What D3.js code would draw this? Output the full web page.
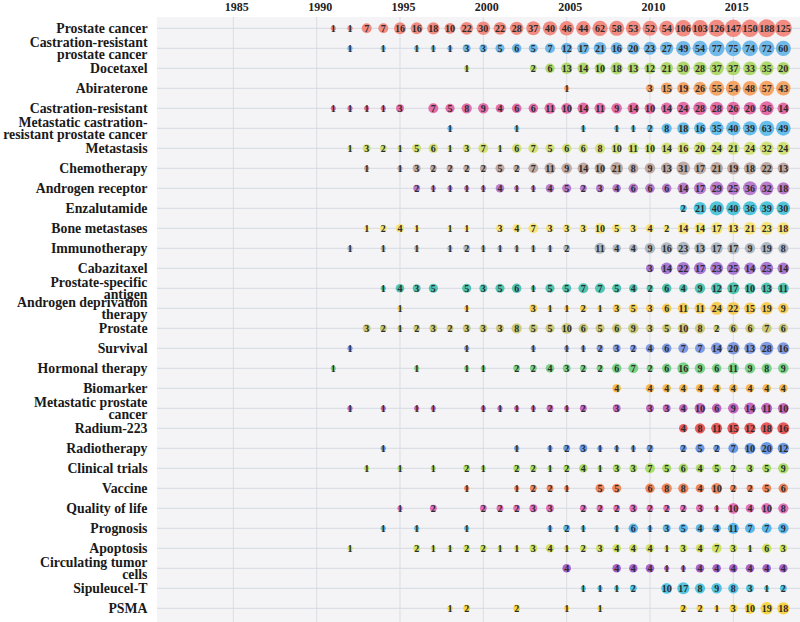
<!DOCTYPE html>
<html><head><meta charset="utf-8">
<script src="https://cdn.jsdelivr.net/npm/d3@7/dist/d3.min.js"></script>
<style>body{margin:0;background:#fff}svg{display:block}</style>
</head><body><svg id="c" width="800" height="622"></svg>
<script>
const tickYears = [1985, 1990, 1995, 2000, 2005, 2010, 2015];
const keywords = ["Prostate cancer","Castration-resistant\nprostate cancer","Docetaxel","Abiraterone","Castration-resistant","Metastatic castration-\nresistant prostate cancer","Metastasis","Chemotherapy","Androgen receptor","Enzalutamide","Bone metastases","Immunotherapy","Cabazitaxel","Prostate-specific\nantigen","Androgen deprivation\ntherapy","Prostate","Survival","Hormonal therapy","Biomarker","Metastatic prostate\ncancer","Radium-223","Radiotherapy","Clinical trials","Vaccine","Quality of life","Prognosis","Apoptosis","Circulating tumor\ncells","Sipuleucel-T","PSMA"];
const colors = ["#f27f74","#62b3e8","#a9d65e","#f59c57","#e35fa0","#55b8ea","#cfe06a","#b9a29b","#b46fc9","#3ec0d9","#f6e36c","#a9b3bd","#a26bd2","#3fc0aa","#f8c944","#c9c66c","#7491e2","#6fd07c","#f8b43f","#c158b9","#e84a4a","#5c90e2","#a3dc5a","#f17b4b","#e262b2","#4bb1e9","#cde153","#a352ca","#41c1e1","#f8d132"];

const prostateCancer = [[1991,1],[1992,1],[1993,7],[1994,7],[1995,16],[1996,16],[1997,18],[1998,10],[1999,22],[2000,30],[2001,22],[2002,28],[2003,37],[2004,40],[2005,46],[2006,44],[2007,62],[2008,58],[2009,53],[2010,52],[2011,54],[2012,106],[2013,103],[2014,126],[2015,147],[2016,150],[2017,188],[2018,125]];
const crpc = [[1992,1],[1994,1],[1996,1],[1997,1],[1998,1],[1999,3],[2000,3],[2001,5],[2002,6],[2003,5],[2004,7],[2005,12],[2006,17],[2007,21],[2008,16],[2009,20],[2010,23],[2011,27],[2012,49],[2013,54],[2014,77],[2015,75],[2016,74],[2017,72],[2018,60]];
const docetaxel = [[1999,1],[2003,2],[2004,6],[2005,13],[2006,14],[2007,10],[2008,18],[2009,13],[2010,12],[2011,21],[2012,30],[2013,28],[2014,37],[2015,37],[2016,33],[2017,35],[2018,20]];
const abiraterone = [[2005,1],[2010,3],[2011,15],[2012,19],[2013,26],[2014,55],[2015,54],[2016,48],[2017,57],[2018,43]];
const castrationResistant = [[1991,1],[1992,1],[1993,1],[1994,1],[1995,3],[1997,7],[1998,5],[1999,8],[2000,9],[2001,4],[2002,6],[2003,6],[2004,11],[2005,10],[2006,14],[2007,11],[2008,9],[2009,14],[2010,10],[2011,14],[2012,24],[2013,28],[2014,28],[2015,26],[2016,20],[2017,36],[2018,14]];
const mcrpc = [[1998,1],[2002,1],[2006,1],[2008,1],[2009,1],[2010,2],[2011,8],[2012,18],[2013,16],[2014,35],[2015,40],[2016,39],[2017,63],[2018,49]];
const metastasis = [[1992,1],[1993,3],[1994,2],[1995,1],[1996,5],[1997,6],[1998,1],[1999,3],[2000,7],[2001,1],[2002,6],[2003,7],[2004,5],[2005,6],[2006,6],[2007,8],[2008,10],[2009,11],[2010,10],[2011,14],[2012,16],[2013,20],[2014,24],[2015,21],[2016,24],[2017,32],[2018,24]];
const chemotherapy = [[1993,1],[1995,1],[1996,3],[1997,2],[1998,2],[1999,2],[2000,2],[2001,5],[2002,2],[2003,7],[2004,11],[2005,9],[2006,14],[2007,10],[2008,21],[2009,8],[2010,9],[2011,13],[2012,31],[2013,17],[2014,21],[2015,19],[2016,18],[2017,22],[2018,13]];
const androgenReceptor = [[1996,2],[1997,1],[1998,1],[1999,1],[2000,1],[2001,4],[2002,1],[2003,1],[2004,4],[2005,5],[2006,2],[2007,3],[2008,4],[2009,6],[2010,6],[2011,6],[2012,14],[2013,17],[2014,29],[2015,25],[2016,36],[2017,32],[2018,18]];
const enzalutamide = [[2012,2],[2013,21],[2014,40],[2015,40],[2016,36],[2017,39],[2018,30]];
const boneMetastases = [[1993,1],[1994,2],[1995,4],[1996,1],[1998,1],[1999,1],[2001,3],[2002,4],[2003,7],[2004,3],[2005,3],[2006,3],[2007,10],[2008,5],[2009,3],[2010,4],[2011,2],[2012,14],[2013,14],[2014,17],[2015,13],[2016,21],[2017,23],[2018,18]];
const immunotherapy = [[1992,1],[1994,1],[1996,1],[1998,1],[1999,2],[2000,1],[2001,1],[2002,1],[2003,1],[2004,1],[2005,2],[2007,11],[2008,4],[2009,4],[2010,9],[2011,16],[2012,23],[2013,13],[2014,17],[2015,17],[2016,9],[2017,19],[2018,8]];
const cabazitaxel = [[2010,3],[2011,14],[2012,22],[2013,17],[2014,23],[2015,25],[2016,14],[2017,25],[2018,14]];
const psa = [[1994,1],[1995,4],[1996,3],[1997,5],[1999,5],[2000,3],[2001,5],[2002,6],[2003,1],[2004,5],[2005,5],[2006,7],[2007,7],[2008,5],[2009,4],[2010,2],[2011,6],[2012,4],[2013,9],[2014,12],[2015,17],[2016,10],[2017,13],[2018,11]];
const adt = [[1995,1],[1999,1],[2003,3],[2004,1],[2005,1],[2006,2],[2007,1],[2008,3],[2009,5],[2010,3],[2011,6],[2012,11],[2013,11],[2014,24],[2015,22],[2016,15],[2017,19],[2018,9]];
const prostate = [[1993,3],[1994,2],[1995,1],[1996,2],[1997,3],[1998,2],[1999,3],[2000,3],[2001,3],[2002,8],[2003,5],[2004,5],[2005,10],[2006,6],[2007,5],[2008,6],[2009,9],[2010,3],[2011,5],[2012,10],[2013,8],[2014,2],[2015,6],[2016,6],[2017,7],[2018,6]];
const survival = [[1992,1],[1999,1],[2003,1],[2005,1],[2006,1],[2007,2],[2008,3],[2009,2],[2010,4],[2011,6],[2012,7],[2013,7],[2014,14],[2015,20],[2016,13],[2017,28],[2018,16]];
const hormonalTherapy = [[1991,1],[1996,1],[1999,1],[2000,1],[2002,2],[2003,2],[2004,4],[2005,3],[2006,2],[2007,2],[2008,6],[2009,7],[2010,2],[2011,6],[2012,16],[2013,9],[2014,6],[2015,11],[2016,9],[2017,8],[2018,9]];
const biomarker = [[2008,4],[2010,4],[2011,4],[2012,4],[2013,4],[2014,4],[2015,4],[2016,4],[2017,4],[2018,4]];
const metastaticPC = [[1992,1],[1994,1],[1996,1],[1997,1],[2000,1],[2001,1],[2002,1],[2003,1],[2004,2],[2005,1],[2006,2],[2008,3],[2010,3],[2011,3],[2012,4],[2013,10],[2014,6],[2015,9],[2016,14],[2017,11],[2018,10]];
const radium223 = [[2012,4],[2013,8],[2014,11],[2015,15],[2016,12],[2017,18],[2018,16]];
const radiotherapy = [[1994,1],[2002,1],[2004,1],[2005,2],[2006,3],[2007,1],[2008,1],[2009,1],[2010,2],[2012,2],[2013,5],[2014,2],[2015,7],[2016,10],[2017,20],[2018,12]];
const clinicalTrials = [[1993,1],[1995,1],[1997,1],[1999,2],[2000,1],[2002,2],[2003,2],[2004,1],[2005,2],[2006,4],[2007,1],[2008,3],[2009,3],[2010,7],[2011,5],[2012,6],[2013,4],[2014,5],[2015,2],[2016,3],[2017,5],[2018,9]];
const vaccine = [[1999,1],[2002,1],[2003,2],[2004,2],[2005,1],[2007,5],[2008,5],[2010,6],[2011,8],[2012,8],[2013,4],[2014,10],[2015,2],[2016,2],[2017,5],[2018,6]];
const qualityOfLife = [[1995,1],[1997,2],[2000,2],[2001,2],[2002,2],[2003,3],[2004,3],[2006,2],[2007,2],[2008,2],[2009,3],[2010,2],[2011,2],[2012,2],[2013,3],[2014,1],[2015,10],[2016,4],[2017,10],[2018,8]];
const prognosis = [[1994,1],[1996,1],[1999,1],[2004,1],[2005,2],[2006,1],[2008,1],[2009,6],[2010,1],[2011,3],[2012,5],[2013,4],[2014,4],[2015,11],[2016,7],[2017,7],[2018,9]];
const apoptosis = [[1992,1],[1996,2],[1997,1],[1998,1],[1999,2],[2000,2],[2001,1],[2002,1],[2003,3],[2004,4],[2005,1],[2006,2],[2007,3],[2008,4],[2009,4],[2010,4],[2011,1],[2012,3],[2013,4],[2014,7],[2015,3],[2016,1],[2017,6],[2018,3]];
const ctc = [[2005,4],[2008,4],[2009,4],[2010,4],[2011,1],[2012,1],[2013,4],[2014,4],[2015,4],[2016,4],[2017,4],[2018,4]];
const sipuleucelT = [[2006,1],[2007,1],[2008,1],[2009,2],[2011,10],[2012,17],[2013,8],[2014,9],[2015,8],[2016,3],[2017,1],[2018,2]];
const psma = [[1998,1],[1999,2],[2002,2],[2005,1],[2007,1],[2012,2],[2013,2],[2014,1],[2015,3],[2016,10],[2017,19],[2018,18]];

const seriesList = [prostateCancer,crpc,docetaxel,abiraterone,castrationResistant,mcrpc,metastasis,chemotherapy,androgenReceptor,enzalutamide,boneMetastases,immunotherapy,cabazitaxel,psa,adt,prostate,survival,hormonalTherapy,biomarker,metastaticPC,radium223,radiotherapy,clinicalTrials,vaccine,qualityOfLife,prognosis,apoptosis,ctc,sipuleucelT,psma];

const svg = d3.select("#c");
const x = d3.scaleLinear().domain([1980, 2019]).range([150, 800]);
const y = d3.scalePoint().domain(keywords).range([28.3, 608.3]);
const maxV = d3.max(seriesList.flat(), d => d[1]);
const r = d3.scaleLog().domain([1, maxV]).range([2.6, 9]);

const plotLeft = 157, plotTop = 17;
svg.append("rect").attr("x", plotLeft).attr("y", plotTop).attr("width", 800 - plotLeft).attr("height", 622 - plotTop).attr("fill", "#f4f4f6");

svg.append("g").selectAll("line").data(tickYears).join("line")
  .attr("x1", d => x(d)).attr("x2", d => x(d)).attr("y1", plotTop).attr("y2", 622)
  .attr("stroke", "#dcdde3").attr("stroke-width", 1);

const axis = d3.axisTop(x).tickValues(tickYears).tickFormat(d3.format("d")).tickSize(0);
const ag = svg.append("g").attr("transform", "translate(3,14)").call(axis);
ag.select(".domain").remove();
ag.selectAll("text").attr("font-family", "'Liberation Serif', serif").attr("font-weight", "bold").attr("font-size", 12).attr("fill", "#222").attr("dy", 0);

svg.append("g").selectAll("line").data(keywords).join("line")
  .attr("x1", plotLeft).attr("x2", 800).attr("y1", d => y(d)).attr("y2", d => y(d))
  .attr("stroke", "#d8dae3").attr("stroke-width", 1);

const lab = svg.append("g").attr("font-family", "'Liberation Serif', serif").attr("font-weight", "bold").attr("fill", "#1a1a1a").attr("text-anchor", "end");
keywords.forEach(k => {
  const lines = k.split("\n");
  const two = lines.length > 1;
  const t = lab.append("text").attr("x", 147.5).attr("y", y(k)).attr("font-size", 13.8);
  lines.forEach((ln, i) => {
    t.append("tspan").attr("x", 147.5).attr("y", y(k) + 4.5 + (two ? (i === 0 ? -5.6 : 5.8) : 0)).text(ln);
  });
});

const cg = svg.append("g");
seriesList.forEach((s, i) => {
  const g = cg.append("g");
  const k = keywords[i];
  g.selectAll("circle").data(s).join("circle")
    .attr("cx", d => x(d[0])).attr("cy", y(k)).attr("r", d => r(d[1]))
    .attr("fill", colors[i]).attr("fill-opacity", 0.9);
  g.selectAll("text").data(s).join("text")
    .attr("x", d => x(d[0])).attr("y", y(k) + 3.5)
    .attr("text-anchor", "middle").attr("font-family", "'Liberation Serif', serif")
    .attr("font-weight", "bold").attr("font-size", 10).attr("fill", "#2b2b2b")
    .text(d => d[1]);
});
</script></body></html>
